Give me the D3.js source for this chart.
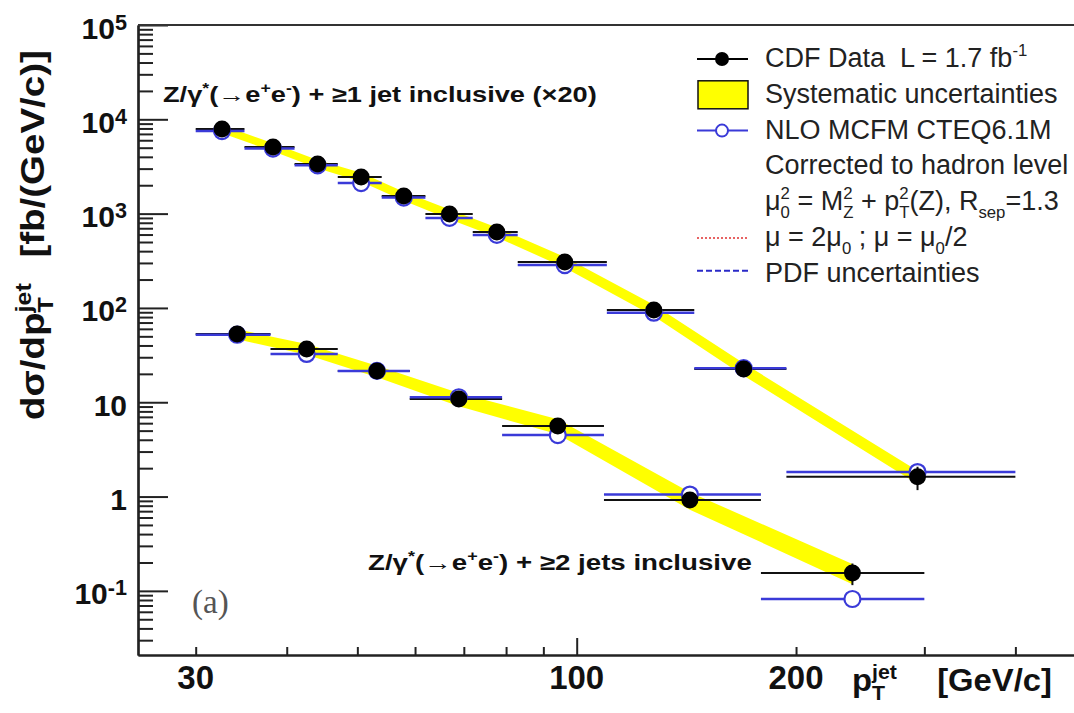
<!DOCTYPE html>
<html>
<head>
<meta charset="utf-8">
<title>Z/gamma* + jets, d sigma / d pT jet</title>
<script src="https://d3js.org/d3.v7.min.js"></script>
<style>
  body { margin: 0; background: #fff; }
  svg text { font-family: "Liberation Sans", Arial, sans-serif; fill: #111; }
</style>
</head>
<body>
<svg id="chart" width="1074" height="713"></svg>
<script>
// >=1 jet inclusive (already x20)
const binEdges1 = [30, 35, 41, 47, 54, 62, 72, 83, 110, 145, 194, 400];
const ptPoint1  = [32.6, 38.3, 44.1, 50.6, 57.9, 66.9, 77.7, 96.3, 127.6, 169.5, 293.6];
const cdf1      = [7890, 5080, 3360, 2445, 1537, 990, 638, 307, 95, 22.5, 1.62];
const stat1     = [80, 50, 40, 30, 20, 15, 12, 6, 3, 1.2, 0.45];
const sys1      = [0.10, 0.10, 0.10, 0.11, 0.11, 0.12, 0.12, 0.13, 0.14, 0.15, 0.16];
const nlo1      = [7500, 4900, 3250, 2110, 1480, 900, 595, 285, 89, 23, 1.82];

// >=2 jets inclusive
const binEdges2 = [30, 38, 47, 59, 79, 109, 179, 300];
const ptPoint2  = [34.2, 42.6, 53.2, 68.9, 94.2, 143, 239];
const cdf2      = [52.9, 36.7, 21.4, 10.8, 5.59, 0.92, 0.155];
const stat2     = [1.5, 1.2, 0.8, 0.5, 0.35, 0.12, 0.04];
const sys2      = [0.12, 0.13, 0.14, 0.16, 0.18, 0.21, 0.24];
const nlo2      = [52, 32.5, 21.5, 11.3, 4.49, 1.05, 0.082];

const yTickValues = [1e5, 1e4, 1e3, 1e2, 10, 1, 0.1];
const yTickLabels = ["10^5", "10^4", "10^3", "10^2", "10", "1", "10^-1"];
const xTickValues = [30, 100, 200];
const xTickLabels = ["30", "100", "200"];

const svg = d3.select("#chart");
const x = d3.scaleLog().domain([25, 500]).range([138, 1086]);
const y = d3.scaleLog().domain([Math.pow(10, -1.68), 1e5]).range([655, 25]);

const BLUE = "#3a3ad8";

// text with sub/superscripts; parts are strings or {sup, sub, gap}
function rich(text, parts, fs, opt) {
  opt = Object.assign({ scale: 0.65, rise: 0.4, drop: 0.28 }, opt || {});
  const small = fs * opt.scale;
  let off = 0, pad = 0;
  parts.forEach(p => {
    if (typeof p === "string") {
      text.append("tspan").attr("dx", pad).attr("dy", -off).text(p);
      off = 0; pad = 0;
      return;
    }
    if (p.gap) { pad += p.gap; return; }
    let supLen = 0;
    if (p.sup != null) {
      const t = text.append("tspan").attr("font-size", small)
        .attr("dx", pad).attr("dy", -opt.rise * fs - off).text(p.sup);
      off = -opt.rise * fs; pad = 0;
      supLen = t.node().getComputedTextLength();
    }
    if (p.sub != null) {
      const t = text.append("tspan").attr("font-size", small)
        .attr("dx", p.sup != null ? -supLen : pad)
        .attr("dy", opt.drop * fs - off).text(p.sub);
      off = opt.drop * fs; pad = 0;
      if (p.sup != null) pad = Math.max(0, supLen - t.node().getComputedTextLength());
    }
  });
  return text;
}

// squeeze/stretch a start-anchored text to a given width
function fitWidth(text, w) {
  const bb = text.node().getBBox();
  const x0 = +text.attr("x") || 0, y0 = +text.attr("y") || 0;
  const s = w / bb.width;
  text.attr("transform", `translate(${x0},${y0}) scale(${s},1) translate(${-x0},${-y0})`);
}

// ---- axes ----
const yMinor = [];
d3.range(-2, 5).forEach(d => d3.range(2, 10).forEach(k => {
  const v = k * Math.pow(10, d);
  if (v >= y.domain()[0]) yMinor.push(v);
}));
const xMinor = [30, 40, 50, 60, 70, 80, 90, 200, 300, 400];

const yAxis = svg.append("g").attr("transform", "translate(138,0)").attr("color", "#222");
yAxis.append("g").call(d3.axisRight(y).tickValues(yTickValues).tickSize(30).tickSizeOuter(0).tickFormat(""));
yAxis.append("g").call(d3.axisRight(y).tickValues(yMinor).tickSize(15).tickSizeOuter(0).tickFormat(""));
yAxis.selectAll(".tick line").attr("stroke-width", 2);
yAxis.selectAll(".domain").attr("stroke-width", 2.2);

const xAxis = svg.append("g").attr("transform", "translate(0,655)").attr("color", "#222");
xAxis.append("g").call(d3.axisTop(x).tickValues([100]).tickSize(17).tickSizeOuter(0).tickFormat(""));
xAxis.append("g").call(d3.axisTop(x).tickValues(xMinor).tickSize(8).tickSizeOuter(0).tickFormat(""));
xAxis.selectAll(".tick line").attr("stroke-width", 2);
xAxis.selectAll(".domain").attr("stroke-width", 2.2);

svg.append("line").attr("x1", 138).attr("x2", 1074).attr("y1", 25).attr("y2", 25)
  .attr("stroke", "#333").attr("stroke-width", 2);

yTickValues.forEach((v, i) => {
  const [base, exp] = yTickLabels[i].split("^");
  const parts = exp ? [base, { sup: exp }] : [base];
  rich(svg.append("text").attr("x", 127).attr("y", y(v) + 13.5)
    .attr("text-anchor", "end").attr("font-size", 30).attr("font-weight", "bold"),
    parts, 30, { scale: 0.72, rise: 0.3 });
});
xTickValues.forEach((v, i) => {
  svg.append("text").attr("x", x(v)).attr("y", 689).attr("text-anchor", "middle")
    .attr("font-size", 33).attr("font-weight", "bold").text(xTickLabels[i]);
});

// axis titles
const yTitleG = svg.append("g").attr("transform", "translate(44,420) rotate(-90)");
const yTitle = rich(yTitleG.append("text").attr("x", 0).attr("y", 0)
  .attr("font-size", 33).attr("font-weight", "bold"),
  ["d\u03c3/dp", { sup: "jet", sub: "T" }, { gap: 22 }, "[fb/(GeV/c)]"], 33);
fitWidth(yTitle, 370);

const xTitle = rich(svg.append("text").attr("x", 852).attr("y", 691)
  .attr("font-size", 31).attr("font-weight", "bold"),
  ["p", { sup: "jet", sub: "T" }, { gap: 38 }, "[GeV/c]"], 31);
fitWidth(xTitle, 200);

// ---- data ----
function rows(edges, pts, cdf, stat, sys, nlo) {
  return pts.map((p, i) => ({ pt: p, lo: edges[i], hi: edges[i + 1], v: cdf[i], e: stat[i], s: sys[i], nlo: nlo[i] }));
}
const series = [
  rows(binEdges1, ptPoint1, cdf1, stat1, sys1, nlo1),
  rows(binEdges2, ptPoint2, cdf2, stat2, sys2, nlo2)
];

const band = d3.area()
  .x(d => x(d.pt))
  .y0(d => y(d.v * (1 - d.s)))
  .y1(d => y(d.v * (1 + d.s)));

series.forEach(data => {
  const g = svg.append("g");
  g.append("path").datum(data).attr("d", band).attr("fill", "#ffff00");

  g.selectAll(".xbar-cdf").data(data).join("line")
    .attr("x1", d => x(d.lo)).attr("x2", d => x(d.hi))
    .attr("y1", d => y(d.v)).attr("y2", d => y(d.v))
    .attr("stroke", "#111").attr("stroke-width", 2);
  g.selectAll(".xbar-nlo").data(data).join("line")
    .attr("x1", d => x(d.lo)).attr("x2", d => x(d.hi))
    .attr("y1", d => y(d.nlo)).attr("y2", d => y(d.nlo))
    .attr("stroke", BLUE).attr("stroke-width", 2.5);
  g.selectAll(".nlo").data(data).join("circle")
    .attr("cx", d => x(d.pt)).attr("cy", d => y(d.nlo)).attr("r", 8)
    .attr("fill", "#fff").attr("stroke", BLUE).attr("stroke-width", 2.2);
  g.selectAll(".err").data(data).join("line")
    .attr("x1", d => x(d.pt)).attr("x2", d => x(d.pt))
    .attr("y1", d => y(d.v - d.e)).attr("y2", d => y(d.v + d.e))
    .attr("stroke", "#111").attr("stroke-width", 2);
  g.selectAll(".cdf").data(data).join("circle")
    .attr("cx", d => x(d.pt)).attr("cy", d => y(d.v)).attr("r", 8.5)
    .attr("fill", "#000");
});

// ---- annotations ----
const ann1 = rich(svg.append("text").attr("x", 163).attr("y", 102)
  .attr("font-size", 22).attr("font-weight", "bold"),
  ["Z/\u03b3", { sup: "*" }, "(\u2192e", { sup: "+" }, "e", { sup: "-" }, ") + \u22651 jet inclusive (\u00d720)"], 22);
fitWidth(ann1, 434);
const ann2 = rich(svg.append("text").attr("x", 368).attr("y", 570)
  .attr("font-size", 22).attr("font-weight", "bold"),
  ["Z/\u03b3", { sup: "*" }, "(\u2192e", { sup: "+" }, "e", { sup: "-" }, ") + \u22652 jets inclusive"], 22);
fitWidth(ann2, 384);

svg.append("text").attr("x", 192).attr("y", 613)
  .style("font-family", "'Liberation Serif', 'Times New Roman', serif")
  .attr("font-size", 33).style("fill", "#555").text("(a)");

// ---- legend ----
const legendRows = [
  ["CDF Data\u00a0 L = 1.7 fb", { sup: "-1" }],
  ["Systematic uncertainties"],
  ["NLO MCFM CTEQ6.1M"],
  ["Corrected to hadron level"],
  ["\u03bc", { sup: "2", sub: "0" }, " = M", { sup: "2", sub: "Z" }, " + p", { sup: "2", sub: "T" }, "(Z), R", { sub: "sep" }, "=1.3"],
  ["\u03bc = 2\u03bc", { sub: "0" }, " ; \u03bc = \u03bc", { sub: "0" }, "/2"],
  ["PDF uncertainties"]
];
const legendKeys = ["data", "sys", "nlo", null, null, "scale", "pdf"];

const leg = svg.append("g");
legendRows.forEach((parts, i) => {
  const base = 67 + i * 35.8;
  const cy = base - 8;
  rich(leg.append("text").attr("x", 765).attr("y", base).attr("font-size", 27).style("fill", "#222"),
    parts, 27, { scale: 0.62, rise: 0.42, drop: 0.3 });
  const key = legendKeys[i];
  if (key === "data" || key === "nlo") {
    const c = key === "data" ? "#000" : BLUE;
    leg.append("line").attr("x1", 697).attr("x2", 748).attr("y1", cy).attr("y2", cy)
      .attr("stroke", c).attr("stroke-width", 2);
    leg.append("circle").attr("cx", 722).attr("cy", cy).attr("r", 6)
      .attr("fill", key === "data" ? "#000" : "#fff").attr("stroke", c).attr("stroke-width", 2);
  } else if (key === "sys") {
    leg.append("rect").attr("x", 698).attr("y", cy - 14).attr("width", 50).attr("height", 28)
      .attr("fill", "#ffff00").attr("stroke", "#111").attr("stroke-width", 1.5);
  } else if (key === "scale") {
    leg.append("line").attr("x1", 697).attr("x2", 748).attr("y1", cy).attr("y2", cy)
      .attr("stroke", "#e03030").attr("stroke-width", 1.5).attr("stroke-dasharray", "2,2");
  } else if (key === "pdf") {
    leg.append("line").attr("x1", 697).attr("x2", 748).attr("y1", cy - 3).attr("y2", cy - 3)
      .attr("stroke", "#2a2ac8").attr("stroke-width", 2).attr("stroke-dasharray", "6,3");
  }
});
</script>
</body>
</html>
